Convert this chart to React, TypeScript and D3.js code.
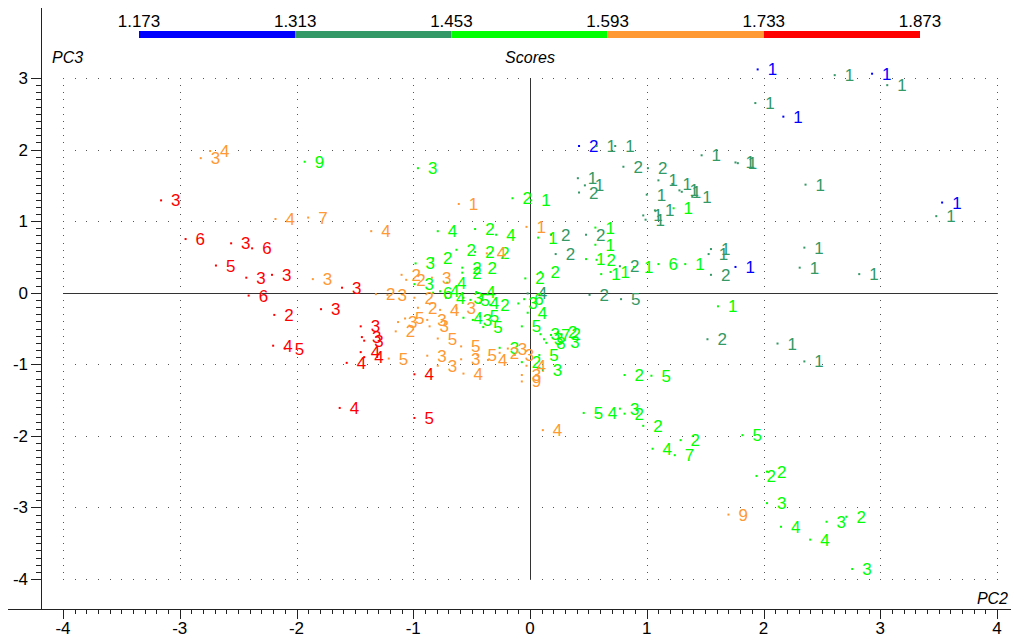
import React from "react";
import * as d3 from "d3";

// Score bins shown in the colour bar (bin edges and colours)
const scoreEdges = [1.173, 1.313, 1.453, 1.593, 1.733, 1.873];
const binColors = ["#0000ff", "#339966", "#00ff00", "#ff9933", "#ff0000"];

// Scores: PC2, PC3, sample label and score bin (index into binColors)
const pc2: number[] = [
  // bin 0
  1.95, 2.93, 2.17, 3.53, 1.76, 0.42,
  // bin 1
  2.61, 3.06, 1.93, 1.47, 1.76, 1.78, 2.36, 3.48, 1.55, 1.53, 2.35, 1.55, 2.31, 2.82,
  0.73, 0.57, 0.80, 1.01, 1.10, 1.22, 1.28, 1.30, 1.39, 1.00, 1.07, 0.97, 0.99, 0.41,
  0.47, 0.42, 0.22, 0.18, 0.48, 0.77, 1.52, 2.12, 2.35, 0.51, 0.78, -0.02,
  // bin 2
  -1.93, -0.96, -0.15, 0.01, -0.79, -0.47, -0.29, 0.07, -0.63, -0.47, -0.34, -0.83, -0.98,
  -0.58, -0.58, -0.45, -0.04, 0.09, 0.56, 0.56, 0.48, 0.57, 0.61, 0.69, 0.89, 1.10, 1.33,
  1.23, 1.61, 0.81, 1.04, 0.46, 0.58, 0.77, 0.81, 0.97, 1.29, 1.05, 1.24, 1.82, 1.94, 2.03,
  2.03, 2.15, 2.40, 2.54, 2.71, 2.76, -0.10, -0.05, -0.02, -0.07, 0.09, 0.12, 0.18, 0.24,
  0.27, 0.26, 0.14, 0.08, 0.11, -0.07, -0.26, -0.99, -0.71, -0.83, -0.77, -0.72, -0.57,
  -0.51, -0.46, -0.43, -0.34, -0.57, -0.49, -0.43, -0.40,
  // bin 3
  -2.82, -2.74, -2.18, -1.90, -1.36, -1.86, -0.61, -0.03, -0.37, -1.10, -1.06, -1.32, -1.22,
  -0.84, -1.21, -1.15, -1.13, -1.07, -0.88, -0.86, -0.96, -0.99, -0.79, -0.59, -0.88, -0.79,
  -0.59, -0.57, -0.45, -0.36, -0.26, -0.19, -0.13, -0.03, -0.07, -0.07, 0.11, 1.70, -0.77,
  -0.63,
  // bin 4
  -3.16, -2.95, -2.56, -2.38, -2.69, -2.43, -2.21, -1.61, -2.41, -2.19, -1.79, -2.20, -2.10,
  -1.45, -1.44, -1.42, -1.57, -1.45, -1.42, -1.63, -0.99, -0.99,
];

const pc3: number[] = [
  // bin 0
  3.12, 3.06, 2.46, 1.26, 0.36, 2.05,
  // bin 1
  3.04, 2.9, 2.65, 1.92, 1.82, 1.81, 1.51, 1.07, 0.61, 0.54, 0.63, 0.25, 0.35, 0.26,
  2.05, 2.05, 1.76, 1.74, 1.57, 1.52, 1.43, 1.41, 1.34, 1.37, 1.15, 1.08, 1.02, 1.6,
  1.5, 1.4, 0.54, 0.81, 0.81, 0.37, -0.65, -0.71, -0.96, -0.03, -0.09, -0.01,
  // bin 2
  1.83, 1.74, 1.32, 1.29, 0.86, 0.89, 0.81, 0.77, 0.6, 0.57, 0.55, 0.48, 0.41,
  0.35, 0.28, 0.35, 0.2, 0.29, 0.91, 0.67, 0.47, 0.46, 0.26, 0.29, 0.36, 0.4, 0.4,
  1.18, -0.19, -1.15, -1.16, -1.68, -1.68, -1.62, -1.69, -1.86, -2.06, -2.18, -2.27, -1.99, -2.56, -2.5,
  -2.94, -3.27, -3.45, -3.2, -3.13, -3.86, -0.15, -0.09, -0.28, -0.47, -0.58, -0.65, -0.59, -0.55,
  -0.58, -0.69, -0.7, -0.87, -1.08, -0.97, -0.77, 0.12, 0.14, 0.0, 0.02, -0.07, -0.07,
  -0.1, 0.01, -0.14, -0.17, -0.35, -0.38, -0.33, -0.48,
  // bin 3
  1.88, 1.98, 1.03, 1.05, 0.86, 0.19, 1.24, 0.92, 0.55, 0.25, 0.18, -0.02, -0.03,
  0.21, -0.92, -0.54, -0.41, -0.36, -0.38, -0.47, -0.21, -0.07, -0.64, -0.75, -0.88, -1.02,
  -0.93, -1.13, -0.87, -0.94, -0.84, -0.78, -0.87, -1.02, -1.15, -1.24, -1.92, -3.1, -0.24,
  -0.22,
  // bin 4
  1.29, 0.75, 0.69, 0.62, 0.38, 0.21, 0.25, 0.07, -0.04, -0.31, -0.23, -0.74, -0.78,
  -0.47, -0.62, -0.67, -0.98, -0.83, -0.9, -1.61, -1.14, -1.75,
];

const sampleLabels: string[] = [
  // bin 0
  "1", "1", "1", "1", "1", "2",
  // bin 1
  "1", "1", "1", "1", "1", "1", "1", "1", "1", "1", "1", "2", "1", "1",
  "1", "1", "2", "2", "1", "1", "1", "1", "1", "1", "1", "1", "1", "1",
  "1", "2", "2", "2", "2", "2", "2", "1", "1", "2", "5", "4",
  // bin 2
  "9", "3", "2", "1", "4", "2", "4", "1", "2", "2", "2", "2", "3",
  "2", "2", "2", "2", "2", "1", "1", "1", "2", "1", "1", "1", "6", "1",
  "1", "1", "2", "5", "5", "4", "3", "2", "2", "2", "4", "7", "5", "2", "2",
  "3", "4", "4", "3", "2", "3", "3", "6", "4", "5", "3", "3", "7", "2",
  "2", "3", "8", "5", "3", "2", "3", "3", "4", "6", "4", "4", "3",
  "5", "4", "4", "2", "4", "3", "5", "5",
  // bin 3
  "3", "4", "4", "7", "4", "3", "1", "1", "4", "2", "2", "2", "3",
  "3", "5", "2", "3", "5", "3", "3", "2", "2", "5", "5", "3", "3",
  "3", "4", "5", "4", "2", "3", "3", "4", "3", "9", "4", "9", "4",
  "3",
  // bin 4
  "3", "6", "3", "6", "5", "3", "3", "3", "6", "2", "3", "4", "5",
  "3", "3", "3", "4", "4", "4", "4", "4", "5",
];

// number of samples in each score bin, in the order listed above
const binCounts = [6, 40, 77, 40, 22];
const scoreBin: number[] = binCounts.flatMap((n, b) => Array(n).fill(b));

const xTickValues = [-4, -3, -2, -1, 0, 1, 2, 3, 4];
const yTickValues = [-4, -3, -2, -1, 0, 1, 2, 3];

const W = 1013;
const H = 637;
const FONT = "Arial, 'Liberation Sans', sans-serif";

export default function App() {
  const x = d3.scaleLinear().domain([-4, 4]).range([63, 997]);
  const y = d3.scaleLinear().domain([-4, 3]).range([579, 78]);
  const cb = d3.scaleLinear().domain([scoreEdges[0], scoreEdges[scoreEdges.length - 1]]).range([139, 920]);

  const axisY = 609;
  const axisX = 41;

  const xMinor = d3.range(-40, 41).map((i) => i / 10);
  const yMinor = d3.range(-40, 31).map((i) => i / 10);

  const points = pc2.map((v, i) => ({ px: x(v), py: y(pc3[i]), label: sampleLabels[i], bin: scoreBin[i] }));

  return (
    <svg
      width={W}
      height={H}
      viewBox={`0 0 ${W} ${H}`}
      style={{ position: "absolute", left: 0, top: 0, background: "#fff", fontFamily: FONT }}
    >
      <rect x={0} y={0} width={W} height={H} fill="#fff" />

      {/* colour bar */}
      {binColors.map((c, i) => (
        <rect key={`cb${i}`} x={cb(scoreEdges[i])} y={31} width={cb(scoreEdges[i + 1]) - cb(scoreEdges[i])} height={7} fill={c} />
      ))}
      {scoreEdges.map((v) => (
        <text key={`cbl${v}`} x={cb(v)} y={27} fontSize={17} textAnchor="middle" fill="#000">
          {v.toFixed(3)}
        </text>
      ))}

      {/* dotted grid */}
      {yTickValues.filter((v) => v !== 0).map((gv) =>
        xMinor.map((xv) => (
          <rect key={`gh${gv}_${xv}`} x={Math.round(x(xv))} y={Math.round(y(gv))} width={1} height={1} fill="#555" />
        ))
      )}
      {xTickValues.filter((v) => v !== 0).map((gv) =>
        yMinor.map((yv) => (
          <rect key={`gv${gv}_${yv}`} x={Math.round(x(gv))} y={Math.round(y(yv))} width={1} height={1} fill="#555" />
        ))
      )}

      {/* zero lines */}
      <line x1={x(-4)} x2={x(4)} y1={Math.round(y(0)) + 0.5} y2={Math.round(y(0)) + 0.5} stroke="#333" strokeWidth={1} />
      <line x1={Math.round(x(0)) + 0.5} x2={Math.round(x(0)) + 0.5} y1={y(3)} y2={y(-4)} stroke="#333" strokeWidth={1} />

      {/* axes */}
      <line x1={8} x2={1011} y1={axisY + 0.5} y2={axisY + 0.5} stroke="#222" strokeWidth={1} />
      <line x1={axisX + 0.5} x2={axisX + 0.5} y1={8} y2={axisY} stroke="#222" strokeWidth={1} />
      {xMinor.map((v) => {
        const major = Math.abs(v - Math.round(v)) < 1e-6;
        const px = Math.round(x(v)) + 0.5;
        return <line key={`xt${v}`} x1={px} x2={px} y1={axisY} y2={axisY + (major ? 10 : 5)} stroke="#222" strokeWidth={1} />;
      })}
      {yMinor.map((v) => {
        const major = Math.abs(v - Math.round(v)) < 1e-6;
        const py = Math.round(y(v)) + 0.5;
        return <line key={`yt${v}`} x1={axisX - (major ? 10 : 5)} x2={axisX} y1={py} y2={py} stroke="#222" strokeWidth={1} />;
      })}
      {xTickValues.map((v) => (
        <text key={`xl${v}`} x={x(v)} y={634} fontSize={17} textAnchor="middle" fill="#000">
          {v}
        </text>
      ))}
      {yTickValues.map((v) => (
        <text key={`yl${v}`} x={28} y={y(v) + 6} fontSize={17} textAnchor="end" fill="#000">
          {v}
        </text>
      ))}

      {/* titles */}
      <text x={52} y={63} fontSize={16} fontStyle="italic" fill="#000">PC3</text>
      <text x={x(0)} y={63} fontSize={16} fontStyle="italic" textAnchor="middle" fill="#000">Scores</text>
      <text x={1008} y={604} fontSize={16} fontStyle="italic" textAnchor="end" fill="#000">PC2</text>

      {/* score points with sample labels */}
      {points.map((p, i) => (
        <g key={`p${i}`}>
          <rect x={p.px - 1} y={p.py - 1} width={2} height={2} fill={binColors[p.bin]} />
          <text x={p.px + 10} y={p.py + 6} fontSize={17} fill={binColors[p.bin]}>
            {p.label}
          </text>
        </g>
      ))}
    </svg>
  );
}
